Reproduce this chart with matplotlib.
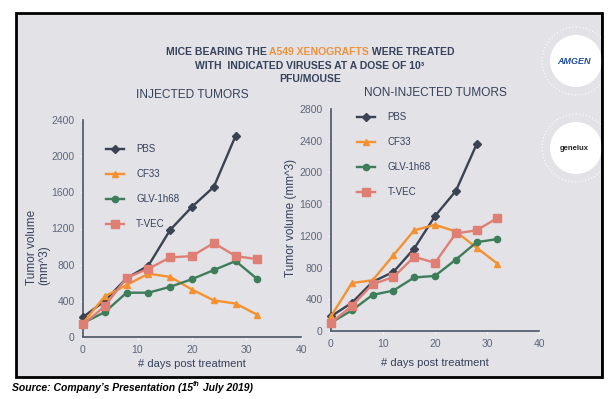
import matplotlib
matplotlib.use("Agg")
import matplotlib.pyplot as plt
from matplotlib.patches import Rectangle, Circle

plt.rcParams['font.family'] = ['Liberation Sans', 'DejaVu Sans']

# days post treatment
days = [0, 4, 8, 12, 16, 20, 24, 28, 32]

# injected tumors (mm^3)
inj_pbs = [220, 400, 650, 790, 1185, 1440, 1660, 2225]
inj_cf33 = [155, 450, 575, 700, 665, 525, 405, 370, 245]
inj_glv = [155, 275, 490, 490, 555, 640, 740, 840, 640]
inj_tvec = [140, 340, 655, 755, 880, 895, 1040, 895, 860]

# non-injected tumors (mm^3)
non_pbs = [185, 355, 620, 745, 1040, 1450, 1765, 2355]
non_cf33 = [185, 605, 640, 955, 1270, 1340, 1255, 1050, 850]
non_glv = [105, 260, 455, 510, 675, 695, 900, 1120, 1160]
non_tvec = [105, 315, 590, 680, 935, 860, 1230, 1270, 1425]

series_names = ["PBS", "CF33", "GLV-1h68", "T-VEC"]
colors = ["#3b4252", "#f5922f", "#3e7d5a", "#df7f74"]
markers = ["D", "^", "o", "s"]
msizes = [4, 4.5, 4.5, 5.2]

navy = "#36415a"
axcol = "#4a5468"
bg = "#e2e2e7"

fig = plt.figure(figsize=(6.12, 3.99), dpi=100)
fig.patch.set_facecolor("white")
W, H = 612, 399


def fx(px):
    return px / W


def fy(py):
    return 1 - py / H


# background layer in pixel coordinates
bg_ax = fig.add_axes([0, 0, 1, 1], zorder=-1)
bg_ax.set_xlim(0, W)
bg_ax.set_ylim(H, 0)
bg_ax.axis("off")
bg_ax.add_patch(Rectangle((16, 13), 586, 364, facecolor=bg, edgecolor="black", linewidth=2))

# logos
for cy, label, lc in [(61, "AMGEN", "#1f4e9c"), (148, "genelux", "#222222")]:
    bg_ax.add_patch(Circle((576, cy), 34, facecolor="none", edgecolor="white",
                           linewidth=0.8, linestyle=(0, (1, 2))))
    bg_ax.add_patch(Circle((576, cy), 26, facecolor="white", edgecolor="none"))
    bg_ax.text(574, cy, label, fontsize=6.5 if label == "AMGEN" else 5.5,
               fontweight="bold", color=lc, ha="center", va="center",
               style="italic" if label == "AMGEN" else "normal")
bg_ax.add_patch(Rectangle((603, 0), 20, H, facecolor="white", edgecolor="none", zorder=3))
bg_ax.plot([602, 602], [13, 377], color="black", linewidth=2, zorder=4)


def draw_panel(rect, data, ymax, title, title_pad, ylabel, leg_pos, ylab_xy):
    ax = fig.add_axes(rect)
    ax.set_facecolor("none")
    for vals, name, c, m, ms in zip(data, series_names, colors, markers, msizes):
        ax.plot(days[:len(vals)], vals, color=c, marker=m, markersize=ms,
                linewidth=1.7, label=name, clip_on=False, zorder=3)
    ax.set_xlim(0, 40)
    ax.set_ylim(0, ymax)
    ax.set_xticks([0, 10, 20, 30, 40])
    ax.set_yticks(range(0, ymax + 1, 400))
    for s in ["top", "right"]:
        ax.spines[s].set_visible(False)
    for s in ["left", "bottom"]:
        ax.spines[s].set_color(axcol)
        ax.spines[s].set_linewidth(1.2)
    ax.tick_params(colors="#f4f4f6", labelsize=7.5, length=2, width=1, pad=4)
    for lab in ax.get_xticklabels() + ax.get_yticklabels():
        lab.set_color("#5d6679")
    ax.set_title(title, fontsize=8.6, color=navy, pad=title_pad)
    ax.set_xlabel("# days post treatment", fontsize=8, color=navy)
    ax.set_ylabel(ylabel, fontsize=8.5, color=navy, linespacing=1.1,
                  multialignment="left")
    ax.yaxis.set_label_coords(*ylab_xy)
    ax.legend(loc="upper left", bbox_to_anchor=leg_pos, frameon=False,
              fontsize=7, handlelength=1.85, labelspacing=1.55, handletextpad=1.25,
              labelcolor=navy)
    return ax


ax1 = draw_panel([fx(83), fy(337), fx(301) - fx(83), fy(120) - fy(337)],
                 [inj_pbs, inj_cf33, inj_glv, inj_tvec], 2400,
                 "INJECTED TUMORS", 15.5, "Tumor volume\n(mm^3)", (0.065, 0.93), (-0.148, 0.415))
ax2 = draw_panel([fx(331), fy(331), fx(539) - fx(331), fy(109) - fy(331)],
                 [non_pbs, non_cf33, non_glv, non_tvec], 2800,
                 "NON-INJECTED TUMORS", 9, "Tumor volume (mm^3)", (0.085, 1.025), (-0.163, 0.51))
ax1.xaxis.set_label_coords(0.5, -0.1)
ax2.xaxis.set_label_coords(0.5, -0.12)

fig.canvas.draw()
r = fig.canvas.get_renderer()


def pieces(x_left, x_center, y, parts, **kw):
    # lay out differently styled pieces side by side
    ts = [fig.text(0, fy(y + p[2]), p[0], color=p[1], va="center", **{**kw, **p[3]})
          for p in parts]
    ws = [t.get_window_extent(r).width for t in ts]
    x = x_center - sum(ws) / 2 if x_center is not None else x_left
    for t, w in zip(ts, ws):
        t.set_x(fx(x))
        x += w


hdr = dict(fontsize=7.5, fontweight="bold")
pieces(None, 310, 52, [("MICE BEARING THE ", navy, 0, {}),
                       ("A549 XENOGRAFTS", "#f0923a", 0, {}),
                       (" WERE TREATED", navy, 0, {})], **hdr)
fig.text(fx(310), fy(66), "WITH  INDICATED VIRUSES AT A DOSE OF 10\u00b3", color=navy,
         ha="center", va="center", **hdr)
fig.text(fx(310), fy(79), "PFU/MOUSE", color=navy, ha="center", va="center", **hdr)

src = dict(fontweight="bold", style="italic")
pieces(12, None, 388, [("Source: Company\u2019s Presentation (15", "black", 0, {"fontsize": 7.5}),
                       ("th", "black", -3, {"fontsize": 5}),
                       (" July 2019)", "black", 0, {"fontsize": 7.5})], **src)

fig.savefig("out.png", dpi=100)
